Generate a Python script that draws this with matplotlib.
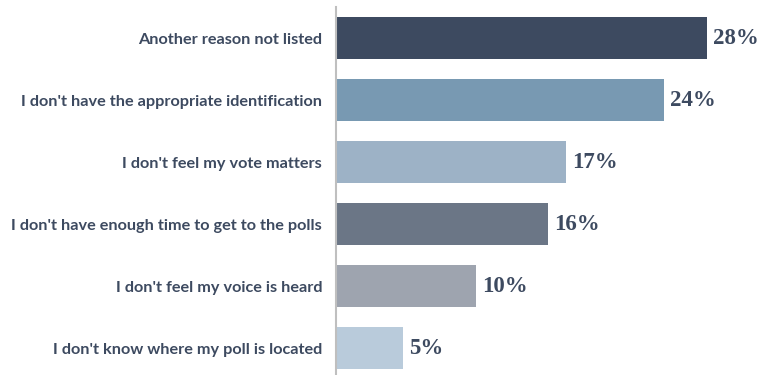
import matplotlib
matplotlib.use('Agg')
import matplotlib.pyplot as plt

categories = ["Another reason not listed",
              "I don't have the appropriate identification",
              "I don't feel my vote matters",
              "I don't have enough time to get to the polls",
              "I don't feel my voice is heard",
              "I don't know where my poll is located"]
values = [27.6, 24.4, 17.1, 15.8, 10.4, 5.0]
colors = ['#3D4A60', '#7899B2', '#9DB2C6', '#6B7686', '#9EA4AF', '#B9CBDB']
text_col = '#3D4A60'

fig = plt.figure(figsize=(7.63, 3.75), dpi=100)
ax = fig.add_axes([336/763, 0, 1 - 336/763, 1 - 7/375])

ypos = list(range(len(categories)))
ax.barh(ypos, values, height=0.68, color=colors, left=0)
ax.set_xlim(0, 31.75)
ax.set_ylim(5.435, -0.5)

for y, v in zip(ypos, values):
    ax.text(v + 0.45, y, f"{round(v)}%", va='center', ha='left',
            fontsize=16.5, fontweight='bold', family='Liberation Serif', color=text_col)

ax.set_yticks(ypos)
ax.set_yticklabels(categories, fontsize=11.7, fontweight='bold', family='Lato', color=text_col)
ax.tick_params(axis='y', length=0, pad=10)
ax.set_xticks([])
for s in ['top', 'right', 'bottom']:
    ax.spines[s].set_visible(False)
ax.spines['left'].set_color('#BFBFBF')
ax.spines['left'].set_linewidth(1.5)

fig.savefig('out.png', dpi=100)
